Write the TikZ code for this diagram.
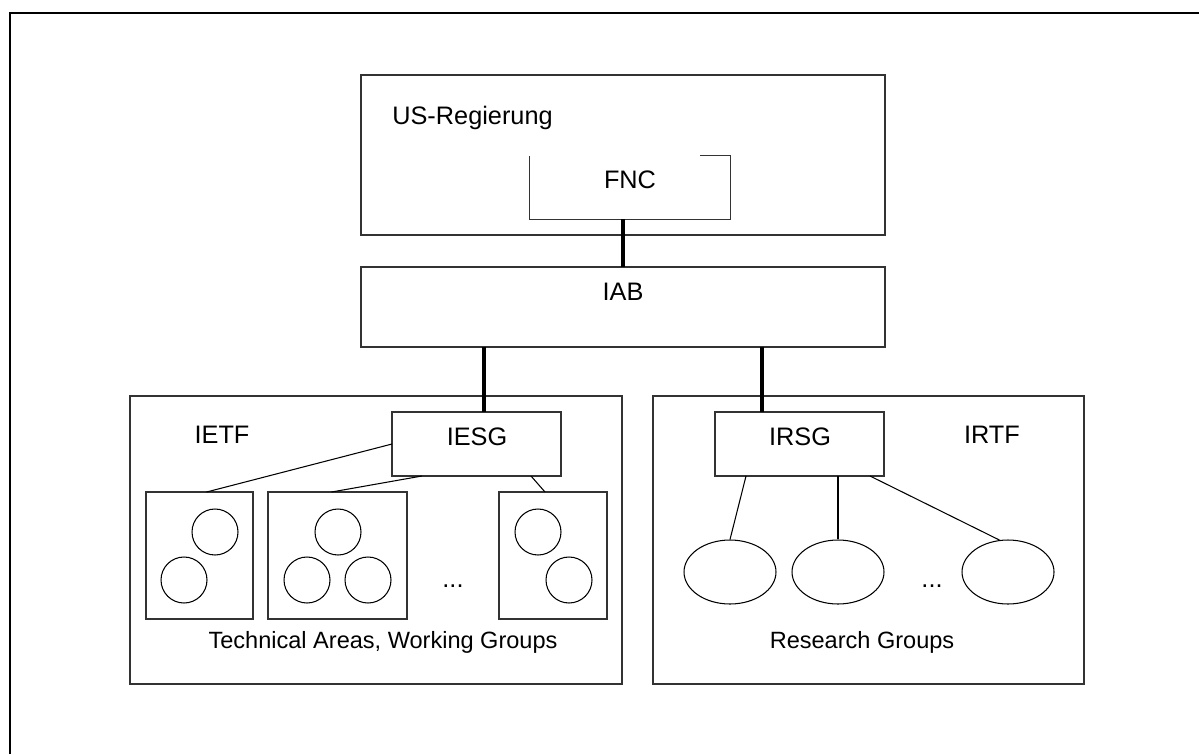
\documentclass[tikz,border=0pt]{standalone}
\usepackage{fontspec}
\setmainfont{Liberation Sans}
\usepackage{tikz}
\usetikzlibrary{shapes.geometric,calc}

\begin{document}
\begin{tikzpicture}[x=0.02cm, y=-0.02cm,
  every node/.style={font=\fontsize{14.4}{17}\selectfont},
  box/.style={draw=black!80, line width=0.75pt, inner sep=0pt, outer sep=0pt},
  txt/.style={anchor=base, inner sep=0pt},
  note/.style={anchor=base, inner sep=0pt, font=\fontsize{13.4}{16}\selectfont},
  wg/.style={circle, draw, line width=0.6pt, minimum size=0.92cm, inner sep=0pt},
  rg/.style={ellipse, draw, line width=0.6pt, minimum width=1.84cm, minimum height=1.28cm, inner sep=0pt},
  link/.style={line width=0.6pt},
  trunk/.style={line width=2.2pt}]
\useasboundingbox (0,0) rectangle (1199,754);
% Frame
\draw[line width=1.2pt] (10,754) -- (10,13) -- (1199,13);

% Top: government and IAB
\node[box, minimum width=10.48cm, minimum height=3.2cm] (us) at (623,155) {};
\node[txt, anchor=base west] (uslabel) at (392,124) {US-Regierung};
\node[inner sep=0pt, minimum width=4cm, minimum height=1.26cm] (fnc) at (630,187.5) {};
\node[txt] (fnclabel) at (630,188) {FNC};
\draw[link, draw=black!80] ($(fnc.north east)+(-30,0)$) -- (fnc.north east) -- (fnc.south east) -- (fnc.south west) -- (fnc.north west);
\node[box, minimum width=10.48cm, minimum height=1.6cm] (iab) at (623,307) {};
\node[txt] (iablabel) at (623,300) {IAB};
\draw[trunk] (fnc.south -| iab.north) -- (iab.north);

% IETF
\node[box, minimum width=9.84cm, minimum height=5.76cm] (ietf) at (376,540) {};
\node[txt] (ietflabel) at (222,443) {IETF};
\node[box, minimum width=3.38cm, minimum height=1.28cm] (iesg) at (476.5,444) {};
\node[txt] (iesglabel) at (477,445) {IESG};
\coordinate (ietfup) at (484,412);
\draw[trunk] (ietfup |- iab.south) -- (ietfup);

\node[box, minimum width=2.14cm, minimum height=2.54cm] (area1) at (199.5,555.5) {};
\node[box, minimum width=2.78cm, minimum height=2.54cm] (area2) at (337.5,555.5) {};
\node[box, minimum width=2.16cm, minimum height=2.54cm] (area3) at (553,555.5) {};
\node[wg] (wg1a) at (215,532) {};
\node[wg] (wg1b) at (184,580) {};
\node[wg] (wg2a) at (338,532) {};
\node[wg] (wg2b) at (307,580) {};
\node[wg] (wg2c) at (368,580) {};
\node[wg] (wg3a) at (538,532) {};
\node[wg] (wg3b) at (569,580) {};
\node[txt] (wgdots) at (453,587) {...};
\draw[link] (iesg.west) -- ($(area1.north)+(7,0)$);
\draw[link] ($(iesg.south west)+(30,0)$) -- ($(area2.north)+(-6,0)$);
\draw[link] ($(iesg.south east)+(-30,0)$) -- ($(area3.north)+(-8,0)$);
\node[note] (ietfnote) at (383,648) {Technical Areas, Working Groups};

% IRTF
\node[box, minimum width=8.62cm, minimum height=5.76cm] (irtf) at (868.5,540) {};
\node[txt] (irtflabel) at (992,443) {IRTF};
\node[box, minimum width=3.38cm, minimum height=1.28cm] (irsg) at (799.5,444) {};
\node[txt] (irsglabel) at (800,445) {IRSG};
\coordinate (irtfup) at (762,412);
\draw[trunk] (irtfup |- iab.south) -- (irtfup);

\node[rg] (rg1) at (730,572) {};
\node[rg] (rg2) at (838,572) {};
\node[rg] (rg3) at (1008,572) {};
\node[txt] (rgdots) at (932,587) {...};
\draw[link] ($(irsg.south west)+(31,0)$) -- (rg1.north);
\draw[link] (rg2.north |- irsg.south) -- (rg2.north);
\draw[link] ($(irsg.south east)+(-14,0)$) -- (rg3.105);
\node[note] (irtfnote) at (862,648) {Research Groups};
\end{tikzpicture}
\end{document}
